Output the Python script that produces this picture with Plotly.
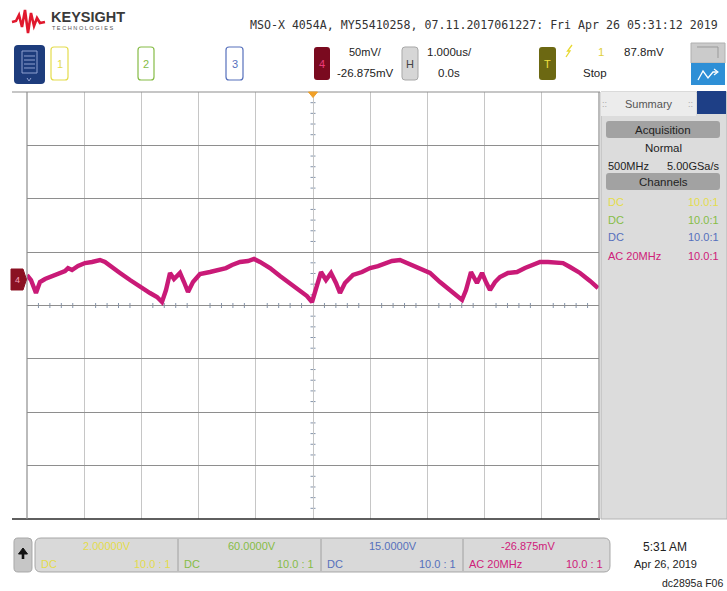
import plotly.graph_objects as go

time_us = [-5.000, -4.930, -4.843, -4.773, -4.685, -4.598, -4.510, -4.423, -4.336, -4.283,
           -4.213, -4.108, -3.986, -3.864, -3.724, -3.636, -3.549, -3.374, -3.199, -3.024,
           -2.850, -2.727, -2.640, -2.570, -2.500, -2.430, -2.378, -2.325, -2.255, -2.185,
           -2.098, -1.976, -1.801, -1.626, -1.521, -1.416, -1.276, -1.136, -1.031, -0.927,
           -0.752, -0.577, -0.402, -0.227, -0.105, -0.017, 0.052, 0.140, 0.227, 0.315,
           0.402, 0.472, 0.559, 0.699, 0.857, 0.997, 1.136, 1.259, 1.381, 1.521,
           1.696, 1.871, 2.045, 2.220, 2.395, 2.535, 2.605, 2.675, 2.762, 2.867,
           2.955, 3.024, 3.094, 3.182, 3.269, 3.409, 3.566, 3.706, 3.846, 3.969,
           4.108, 4.248, 4.371, 4.493, 4.668, 4.843, 4.983]
ch4_mV = [1.7, -3.0, -15.2, -4.9, -2.1, -0.2, 1.7, 3.6, 5.4, 8.2,
          6.4, 10.1, 12.9, 13.9, 15.7, 13.9, 10.1, 3.6, -3.0, -9.6,
          -15.2, -18.9, -23.6, -12.4, 3.6, -2.1, 0.7, 3.6, -4.9, -14.2,
          -4.9, 2.6, 4.5, 6.4, 8.2, 11.0, 13.9, 14.8, 16.7, 13.9,
          8.2, 0.7, -5.8, -13.3, -18.0, -23.6, -12.4, 4.5, -3.0, 3.6,
          -5.8, -15.2, -5.8, 1.7, 4.5, 8.2, 10.1, 12.9, 14.8, 15.7,
          12.0, 8.2, 3.6, -4.9, -12.4, -18.0, -21.7, -12.4, 4.5, -5.8,
          3.6, -4.9, -12.4, -4.9, -0.2, 3.6, 4.5, 8.2, 11.0, 13.9,
          13.9, 12.9, 12.9, 9.2, 3.6, -3.9, -10.5]

# scope settings
volts_per_div = 50.0      # mV/div
offset_mV = -26.875
time_per_div = 1.0        # us/div
n_hdiv, n_vdiv = 10, 8

header_title = "MSO-X 4054A, MY55410258, 07.11.2017061227: Fri Apr 26 05:31:12 2019"
bottom_cells = [("2.00000V", "DC", "10.0 : 1"), ("60.0000V", "DC", "10.0 : 1"),
                ("15.0000V", "DC", "10.0 : 1"), ("-26.875mV", "AC 20MHz", "10.0 : 1")]
summary_rows = [("DC", "10.0:1"), ("DC", "10.0:1"), ("DC", "10.0:1"), ("AC 20MHz", "10.0:1")]

CH_COL = ["#e4dc4c", "#86bc46", "#5670bc", "#cf2079"]
WAVE = "#c91a77"
UI = "Liberation Sans"

W, H = 727, 591
L, R, T, B = 27, 599, 92, 519


def px(x):
    return (x - L) / (R - L)


def py(y):
    return (B - y) / (B - T)


def path_from(points, close=False):
    s = "M " + " L ".join(f"{px(x):.5f},{py(y):.5f}" for x, y in points)
    return s + (" Z" if close else "")


def rrect_path(x0, y0, x1, y1, r):
    def P(x, y):
        return f"{px(x):.5f},{py(y):.5f}"
    return (f"M {P(x0 + r, y0)} L {P(x1 - r, y0)} Q {P(x1, y0)} {P(x1, y0 + r)} "
            f"L {P(x1, y1 - r)} Q {P(x1, y1)} {P(x1 - r, y1)} L {P(x0 + r, y1)} "
            f"Q {P(x0, y1)} {P(x0, y1 - r)} L {P(x0, y0 + r)} Q {P(x0, y0)} {P(x0 + r, y0)} Z")


shapes = []
annots = []


def rrect(x0, y0, x1, y1, fill, line=None, lw=1.0, r=3):
    shapes.append(dict(type="path", xref="paper", yref="paper", path=rrect_path(x0, y0, x1, y1, r),
                       fillcolor=fill, line=dict(color=line or "rgba(0,0,0,0)", width=lw if line else 0),
                       layer="above"))


def rect(x0, y0, x1, y1, fill, line=None, lw=1.0):
    shapes.append(dict(type="rect", xref="paper", yref="paper", x0=px(x0), x1=px(x1), y0=py(y1), y1=py(y0),
                       fillcolor=fill, line=dict(color=line or "rgba(0,0,0,0)", width=lw if line else 0),
                       layer="above"))


def seg(points, color, width=1.0, fill=None, close=False):
    d = dict(type="path", xref="paper", yref="paper", path=path_from(points, close),
             line=dict(color=color, width=width), layer="above")
    if fill:
        d["fillcolor"] = fill
    shapes.append(d)


def text(x, y, s, color="#222", size=11.5, xa="left", family=UI, bold=False):
    annots.append(dict(xref="paper", yref="paper", x=px(x), y=py(y), text=(f"<b>{s}</b>" if bold else s),
                       showarrow=False, xanchor=xa, yanchor="middle",
                       font=dict(family=family, size=size, color=color)))


# ---------------- header ----------------
seg([(12, 22), (16, 21), (19, 15), (22, 27), (25, 10), (28, 33), (31, 13), (34, 26), (37, 18), (40, 23), (45, 22)],
    "#e0182d", 2.6)
text(49, 17, "KEYSIGHT", "#3a3a3a", 14.5, bold=True)
text(50, 28, "T E C H N O L O G I E S", "#555", 5.6)
text(248, 25, header_title, "#333", 11.6, family="DejaVu Sans Mono")

# menu icon
rrect(14, 45, 45, 84, "#1d3c7c", None, r=4)
rect(22, 51, 37, 73, "rgba(0,0,0,0)", "#8fa0d0", 1)
for yy in (56, 60, 64, 68):
    seg([(24, yy), (35, yy)], "#8fa0d0", 1)
seg([(27, 78), (29, 81), (31, 78)], "#8fa0d0", 1)

# channel boxes
boxes = [(51, 68), (138, 154), (226, 243), (314, 330)]
for i, (x0, x1) in enumerate(boxes):
    if i < 3:
        rrect(x0, 47, x1, 80, "#ffffff", CH_COL[i], 1.2, r=3)
    else:
        rrect(x0, 47, x1, 80, "#7a0a1f", None, r=3)
    text((x0 + x1) / 2, 64, str(i + 1), CH_COL[i] if i < 3 else "#ec3a7a", 11, xa="center")

text(347, 52, "50mV/", "#222", 11)
text(335, 73, "-26.875mV", "#222", 11.5)

rrect(402, 47, 418, 80, "#d6d6d6", "#a8a8a8", 1, r=3)
text(410, 64, "H", "#444", 11, xa="center")
text(425, 52, "1.000us/", "#222", 11.5)
text(436, 73, "0.0s", "#222", 11.5)

rrect(539, 47, 556, 80, "#6c6812", None, r=3)
text(547.5, 64, "T", "#f0e040", 11, xa="center")
seg([(566, 57), (570, 51), (567.5, 51), (572, 45)], "#e8d830", 1.3)
text(601, 52, "1", "#e0d040", 11.5, xa="center")
text(622, 52, "87.8mV", "#222", 11.5)
text(581, 73, "Stop", "#222", 11.5)

rect(691, 43, 725, 63, "#cbcbcb", "#b0b0b0", 1)
seg([(697, 47), (718, 47), (718, 58)], "#9a9a9a", 1)
rect(691, 63, 725, 85, "#2e8fd6")
seg([(698, 80), (703, 71), (708, 78), (713, 72), (717, 72)], "#ffffff", 1.3)
seg([(714, 69), (718, 72), (714, 75)], "#ffffff", 1.1)

# ---------------- right summary panel ----------------
rect(601, 92, 727, 519, "#dcdcdc", "#b4b4b4", 1)
rect(601, 92, 696, 116, "#ececec")
text(649, 104, "Summary", "#555", 11, xa="center")
text(604, 104, "::", "#aaa", 9, xa="center")
text(690, 104, "::", "#aaa", 9, xa="center")
rect(697, 91, 726, 114, "#1e3f86")
rrect(606, 121, 720, 138, "#a2a2a2", None, r=3)
text(663, 129.5, "Acquisition", "#222", 11.5, xa="center")
text(663, 148, "Normal", "#222", 11.5, xa="center")
text(606, 166, "500MHz", "#222", 11)
text(721, 166, "5.00GSa/s", "#222", 11, xa="right")
rrect(606, 173, 720, 190, "#a2a2a2", None, r=3)
text(663, 182, "Channels", "#222", 11.5, xa="center")
for i, (a, b) in enumerate(summary_rows):
    yy = [202, 220, 237, 256][i]
    text(606, yy, a, CH_COL[i], 11)
    text(721, yy, b, CH_COL[i], 11, xa="right")

# ---------------- bottom bar ----------------
rrect(14, 538, 32, 572, "#c6c6c6", "#a8a8a8", 1, r=4)
seg([(18.5, 554), (23, 548), (27.5, 554)], "#111", 1, fill="#111", close=True)
rect(21.7, 553, 24.3, 559, "#111")
rrect(35, 538, 610, 572, "#d9d9d9", "#a6a6a6", 1, r=6)
cells = [(35, 178), (178, 321), (321, 463), (463, 610)]
top_centers = [107, 252, 393, 528]
for i, (x0, x1) in enumerate(cells):
    if i > 0:
        seg([(x0, 539), (x0, 571)], "#a0a0a0", 1)
    top, left, right = bottom_cells[i]
    text(top_centers[i], 546, top, CH_COL[i], 11, xa="center")
    text(x0 + 4, 564, left, CH_COL[i], 11)
    text(x1 - 5, 564, right, CH_COL[i], 11, xa="right")
text(665, 547, "5:31 AM", "#222", 12, xa="center")
text(665, 564, "Apr 26, 2019", "#222", 11, xa="center")
text(725, 583, "dc2895a F06", "#222", 10.5, xa="right")

# ---------------- graticule decorations ----------------
x_lo, x_hi = -n_hdiv / 2 * time_per_div, n_hdiv / 2 * time_per_div
y_lo, y_hi = offset_mV - n_vdiv / 2 * volts_per_div, offset_mV + n_vdiv / 2 * volts_per_div

TICK = "#8494ab"
for k in range(-n_hdiv * 5 // 2, n_hdiv * 5 // 2 + 1):
    if k % 5:
        shapes.append(dict(type="line", xref="x", yref="y", x0=k * time_per_div / 5, x1=k * time_per_div / 5,
                           ysizemode="pixel", yanchor=offset_mV, y0=-2.5, y1=2.5,
                           line=dict(color=TICK, width=1), layer="below"))
for k in range(-n_vdiv * 5 // 2, n_vdiv * 5 // 2 + 1):
    if k % 5:
        v = offset_mV + k * volts_per_div / 5
        shapes.append(dict(type="line", xref="x", yref="y", y0=v, y1=v,
                           xsizemode="pixel", xanchor=0, x0=-2.5, x1=2.5,
                           line=dict(color=TICK, width=1), layer="below"))

# borders
seg([(12, 92), (600, 92)], "#8e8e8e", 1.2)
seg([(12, 519), (600, 519)], "#2a2a2a", 1.6)
seg([(27, 92), (27, 519)], "#8e8e8e", 1.2)
seg([(599, 92), (599, 519)], "#8e8e8e", 1.2)

# channel 4 ground marker & trigger position marker
seg([(11, 269), (23, 269), (26.5, 279.5), (23, 290), (11, 290)], "#8a1122", 1, fill="#8a1122", close=True)
text(17.5, 279.5, "4", "#f4a0b8", 9, xa="center")
seg([(308.5, 92), (317.5, 92), (313, 97.5)], "#f0a028", 1, fill="#f0a028", close=True)

# ---------------- figure ----------------
fig = go.Figure()
fig.add_trace(go.Scatter(x=time_us, y=ch4_mV, mode="lines",
                         line=dict(color=WAVE, width=4.4), hoverinfo="skip"))

fig.update_layout(
    width=W, height=H,
    margin=dict(l=L, r=W - R, t=T, b=H - B, pad=0),
    paper_bgcolor="white", plot_bgcolor="white",
    showlegend=False,
    xaxis=dict(range=[x_lo, x_hi], tick0=0, dtick=time_per_div, showgrid=True, gridcolor="#c6c6c6",
               gridwidth=1, zeroline=False, showticklabels=False, ticks="", showline=False, fixedrange=True),
    yaxis=dict(range=[y_lo, y_hi], tick0=offset_mV, dtick=volts_per_div, showgrid=True, gridcolor="#8e8e8e",
               gridwidth=1, zeroline=False, showticklabels=False, ticks="", showline=False, fixedrange=True),
    shapes=shapes,
    annotations=annots,
)

fig.write_html("out.html", config={"displayModeBar": False},
               post_script="document.body.style.margin='0';document.body.style.overflow='hidden';")
